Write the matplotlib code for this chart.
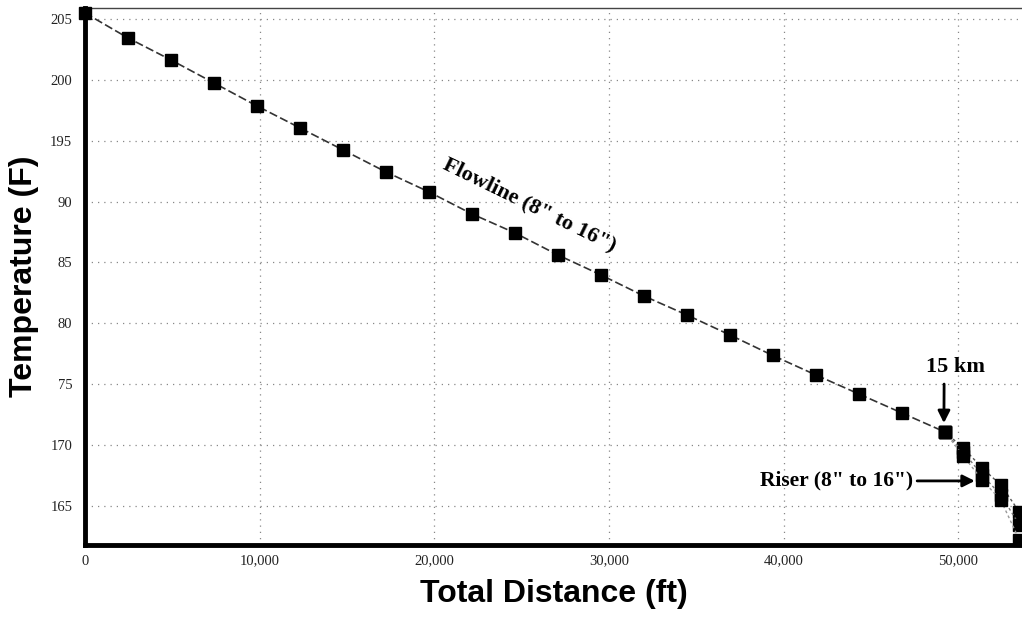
import matplotlib
matplotlib.use("Agg")
import matplotlib.pyplot as plt

# flowline: markers every 750 m (2460.6 ft) up to 15 km
flow_dist = [i * 2460.6 for i in range(21)]
flow_temp = [205.5, 203.45, 201.64, 199.75, 197.86, 196.06, 194.25, 192.44,
             190.8, 188.99, 187.43, 185.62, 183.98, 182.25, 180.69, 179.05,
             177.36, 175.76, 174.2, 172.64, 171.08]

# riser cases, starting at the 15 km point
riser_dist = [49213, 50283, 51353, 52423, 53493]
riser_temp_a = [171.08, 169.76, 168.12, 166.72, 164.5]
riser_temp_b = [171.08, 169.43, 167.54, 165.9, 163.43]
riser_temp_c = [171.08, 169.1, 167.13, 165.48, 162.2]

x_ticks = [0, 10000, 20000, 30000, 40000, 50000]
x_tick_labels = ["0", "10,000", "20,000", "30,000", "40,000", "50,000"]
y_ticks = [205, 200, 195, 190, 185, 180, 175, 170, 165]
y_tick_labels = ["205", "200", "195", "90", "85", "80", "75", "170", "165"]

fig = plt.figure(figsize=(10.22, 6.17), dpi=100)
ax = fig.add_axes([0.083, 0.117, 0.917, 0.870])

# riser lines first so the flowline sits on top
for temps, col in [(riser_temp_a, "#555555"), (riser_temp_b, "#777777"), (riser_temp_c, "#999999")]:
    ax.plot(riser_dist, temps, color=col, lw=1.0, ls=(0, (2, 2)),
            marker="s", ms=8, mfc="black", mec="black", clip_on=False, zorder=3)

ax.plot(flow_dist, flow_temp, color="#333333", lw=1.2, ls=(0, (5, 2)),
        marker="s", ms=8, mfc="black", mec="black", clip_on=False, zorder=4)

ax.set_xlim(0, 53640)
ax.set_ylim(161.8, 205.9)
ax.set_xticks(x_ticks)
ax.set_xticklabels(x_tick_labels)
ax.set_yticks(y_ticks)
ax.set_yticklabels(y_tick_labels)
ax.tick_params(length=0, labelsize=10.5, labelcolor="#222222")
ax.tick_params(axis="y", pad=9)
ax.tick_params(axis="x", pad=7)
for lab in ax.get_xticklabels() + ax.get_yticklabels():
    lab.set_family("Liberation Serif")

ax.grid(True, color="#888888", ls=(0, (1, 4)), lw=0.9)

ax.spines["left"].set_linewidth(3.5)
ax.spines["bottom"].set_linewidth(3.5)
ax.spines["top"].set_linewidth(1.0)
ax.spines["top"].set_color("#444444")
ax.spines["right"].set_visible(False)

ax.set_xlabel("Total Distance (ft)", fontsize=23, fontweight="bold",
              family="Liberation Sans", labelpad=8)
ax.set_ylabel("Temperature (F)", fontsize=23, fontweight="bold",
              family="Liberation Sans", labelpad=8)

ax.text(25470, 189.7, "Flowline (8\" to 16\")", rotation=-26, rotation_mode="anchor",
        ha="center", va="center", fontsize=16, fontweight="bold",
        family="Liberation Serif")

ax.annotate("15 km", xy=(49170, 171.8), xytext=(49860, 176.4),
            ha="center", va="center", fontsize=16, fontweight="bold",
            family="Liberation Serif",
            arrowprops=dict(arrowstyle="-|>", color="black", lw=2,
                            mutation_scale=18, shrinkA=3, shrinkB=0,
                            relpos=(0.3, 0.0)))

ax.annotate("Riser (8\" to 16\")", xy=(50940, 167.05), xytext=(47400, 167.05),
            ha="right", va="center", fontsize=15.5, fontweight="bold",
            family="Liberation Serif",
            arrowprops=dict(arrowstyle="-|>", color="black", lw=2,
                            mutation_scale=18, shrinkA=1, shrinkB=0))

fig.savefig("out.png", dpi=100)
